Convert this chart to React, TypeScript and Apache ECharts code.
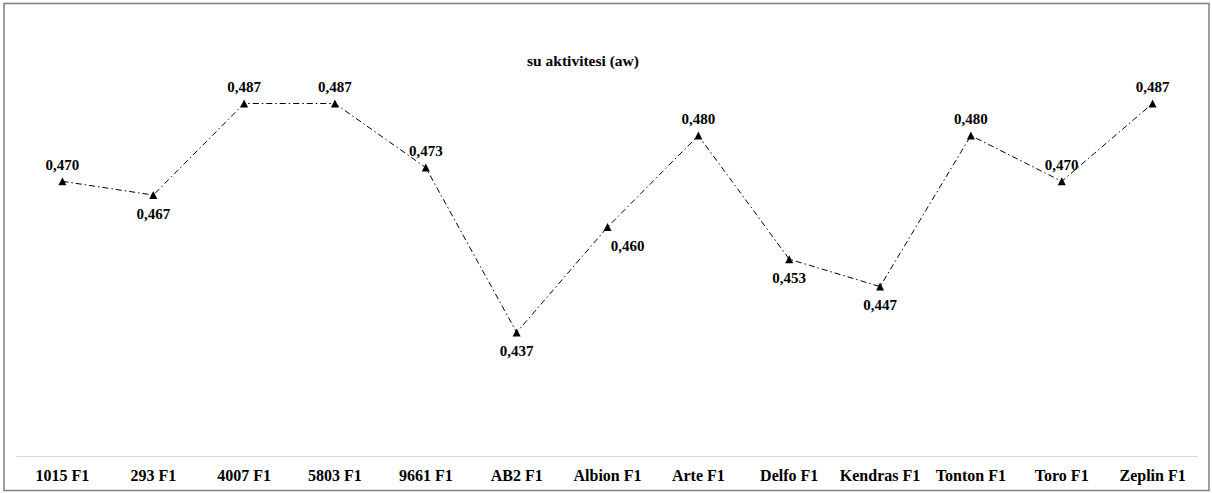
import React, { useEffect, useRef } from "react";
import * as echarts from "echarts";

const categories = ["1015 F1", "293 F1", "4007 F1", "5803 F1", "9661 F1", "AB2 F1", "Albion F1", "Arte F1", "Delfo F1", "Kendras F1", "Tonton F1", "Toro F1", "Zeplin F1"];
const values = [0.47, 0.467, 0.487, 0.487, 0.473, 0.437, 0.46, 0.48, 0.453, 0.447, 0.48, 0.47, 0.487];
const labelPositions = ["top", "bottom", "top", "top", "top", "bottom", "bottomRight", "top", "bottom", "bottom", "top", "top", "top"];

const FONT = "'Liberation Serif', 'Times New Roman', serif";

export default function App() {
  const ref = useRef<HTMLDivElement>(null);
  useEffect(() => {
    if (!ref.current) return;
    const chart = echarts.init(ref.current, undefined, { renderer: "svg" });
    const data = values.map((v, i) => {
      const pos = labelPositions[i];
      const label: any =
        pos === "top"
          ? { position: "top", distance: 5 }
          : pos === "bottom"
          ? { position: "bottom", distance: 7 }
          : { position: "bottom", distance: 7, offset: [20, 0] };
      return { value: v, label };
    });
    chart.setOption({
      animation: false,
      backgroundColor: "#ffffff",
      title: {
        text: "su aktivitesi (aw)",
        left: 578,
        textAlign: "center",
        top: 47,
        textStyle: { fontFamily: FONT, fontSize: 15.5, fontWeight: "bold", color: "#000" },
      },
      graphic: [
        {
          type: "rect",
          shape: { x: 4, y: 3.5, width: 1205, height: 487 },
          style: { fill: "none", stroke: "#7f7f7f", lineWidth: 1.5 },
          silent: true,
        },
      ],
      grid: { left: 17, right: 14, top: 44, height: 412, containLabel: false },
      xAxis: {
        type: "category",
        data: categories,
        boundaryGap: true,
        axisLine: { lineStyle: { color: "#d9d9d9", width: 1 } },
        axisTick: { show: false },
        axisLabel: { fontFamily: FONT, fontSize: 16, fontWeight: "bold", color: "#000", margin: 11, interval: 0 },
      },
      yAxis: {
        type: "value",
        min: 0.41,
        max: 0.5,
        show: false,
        splitLine: { show: false },
      },
      series: [
        {
          type: "line",
          data,
          symbol: "triangle",
          symbolSize: 8,
          itemStyle: { color: "#000" },
          lineStyle: { color: "#000", width: 1, type: [6, 3, 1.5, 3] },
          label: {
            show: true,
            fontFamily: FONT,
            fontSize: 15,
            fontWeight: "bold",
            color: "#000",
            formatter: (p: any) => p.value.toFixed(3).replace(".", ","),
          },
        },
      ],
    });
    return () => chart.dispose();
  }, []);
  return (
    <div style={{ position: "fixed", left: 0, top: 0, width: 1212, height: 493 }}>
      <div ref={ref} style={{ width: 1212, height: 493 }} />
    </div>
  );
}
